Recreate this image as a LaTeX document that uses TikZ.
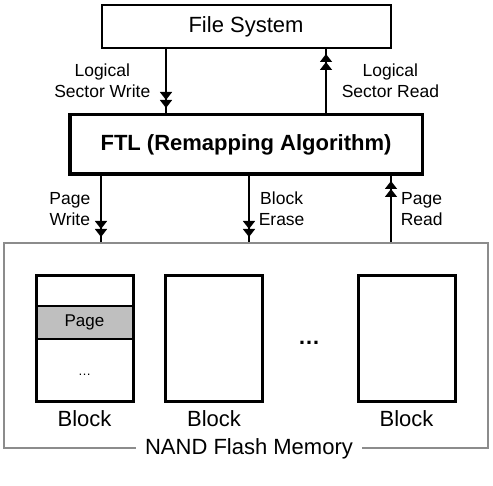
\documentclass[tikz,border=0pt]{standalone}
\usepackage{fontspec}
\setmainfont{Liberation Sans}
\usetikzlibrary{arrows.meta}
\usetikzlibrary{positioning}

\tikzset{
  box/.style={draw, rectangle, align=center, inner sep=0pt, font=\fontsize{22}{26}\selectfont},
  blockbox/.style={box, line width=3pt, minimum width=97pt, minimum height=126pt},
  lbl/.style={align=center, inner sep=1pt, font=\fontsize{17.5}{21}\selectfont},
  flow/.style={line width=1.5pt, postaction={draw, -{Triangle[width=12pt,length=8pt,sep=0pt]Triangle[width=12pt,length=8pt]}, shorten >=5pt}}
}

\begin{document}
\begin{tikzpicture}[x=1pt,y=1pt]
  \useasboundingbox (0,0) rectangle (493,485);
  % Flash translation layer stack
  \node[box, line width=2pt, minimum width=289pt, minimum height=43pt] (fs) at (246,458.5) {File System};
  \node[box, line width=3.5pt, minimum width=352.5pt, minimum height=59.5pt, font=\fontsize{22}{26}\selectfont\bfseries] (ftl) at (246,340.5) {FTL (Remapping Algorithm)};
  \node[box, draw=black!45, line width=2pt, minimum width=484pt, minimum height=205pt] (nand) at (246,139.5) {};
  \node[box, draw=none, fill=white, inner sep=9pt] (nandlbl) at ([xshift=3pt]nand.south) {NAND Flash Memory};

  % blocks
  \node[box, fill=black!25, line width=1.5pt, minimum width=95.5pt, minimum height=33pt, font=\fontsize{17}{20}\selectfont] (page) at (84.5,162.5) {Page};
  \node[blockbox] (b1) at (84.5,146.5) {};
  \node[blockbox] (b2) at (214,146.5) {};
  \node[blockbox] (b3) at (406.5,146.5) {};
  \node[font=\fontsize{13}{15}\selectfont] (pdots) at (84.5,110) {\dots};
  \node[font=\fontsize{22}{26}\selectfont\bfseries] (bdots) at (309,142) {\dots};
  \node[box, draw=none, below=7pt of b1] (b1lbl) {Block};
  \node[box, draw=none, below=7pt of b2] (b2lbl) {Block};
  \node[box, draw=none, below=7pt of b3] (b3lbl) {Block};

  \draw[flow] ([xshift=-80pt]fs.south) -- node[lbl, left=14pt] {Logical\\Sector Write} ([xshift=-80pt]ftl.north);
  \draw[flow] ([xshift=80pt]ftl.north) -- node[lbl, right=14pt] {Logical\\Sector Read} ([xshift=80pt]fs.south);
  \draw[flow] ([xshift=-145pt]ftl.south) -- node[lbl, left=9pt] {Page\\Write} ([xshift=-145pt]nand.north);
  \draw[flow] ([xshift=3pt]ftl.south) -- node[lbl, right=8pt] {Block\\Erase} ([xshift=3pt]nand.north);
  \draw[flow] ([xshift=145pt]nand.north) -- node[lbl, right=8pt] {Page\\Read} ([xshift=145pt]ftl.south);
\end{tikzpicture}
\end{document}
